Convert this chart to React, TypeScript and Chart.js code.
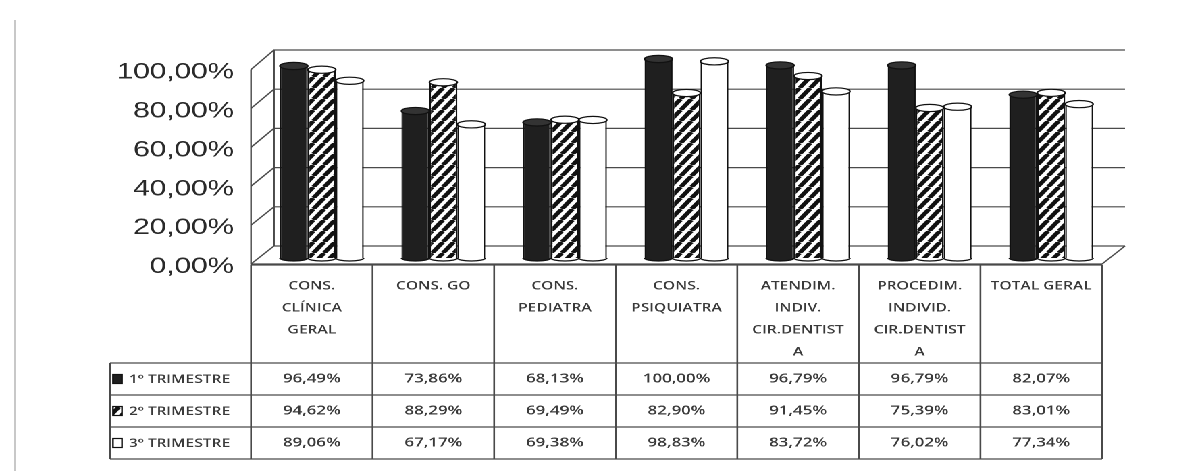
import React, { useEffect, useRef } from "react";
import { Chart, registerables } from "chart.js";

Chart.register(...registerables);

// ---------- data ----------
const CATEGORIES: string[][] = [
  ["CONS.", "CLÍNICA", "GERAL"],
  ["CONS. GO"],
  ["CONS.", "PEDIATRA"],
  ["CONS.", "PSIQUIATRA"],
  ["ATENDIM.", "INDIV.", "CIR.DENTIST", "A"],
  ["PROCEDIM.", "INDIVID.", "CIR.DENTIST", "A"],
  ["TOTAL GERAL"],
];
const SERIES_NAMES = ["1º TRIMESTRE", "2º TRIMESTRE", "3º TRIMESTRE"];
const TRIM1 = [96.49, 73.86, 68.13, 100.0, 96.79, 96.79, 82.07];
const TRIM2 = [94.62, 88.29, 69.49, 82.9, 91.45, 75.39, 83.01];
const TRIM3 = [89.06, 67.17, 69.38, 98.83, 83.72, 76.02, 77.34];
const Y_TICKS = [0, 20, 40, 60, 80, 100];

// ---------- layout / style ----------
const INNER_W = 890;
const H = 471;
const SX = 1202 / INNER_W;
const TABLE_SHIFT = 10 / SX;
const DEPTH_X = 23 / SX;
const LEGEND_LEFT = 110 / SX;
const HEADER_TOP = 265;
const HEADER_H = 98;
const ROW_H = 32;
const LINE_COLOR = "#4a4a4a";
const TEXT_COLOR = "#3a3a3a";
const FONT = "'Liberation Sans', Arial, sans-serif";
const TABLE_FONT = "'Open Sans', 'Liberation Sans', sans-serif";

const fmt = (v: number) => v.toFixed(2).replace(".", ",") + "%";

function makeHatch(): CanvasPattern | string {
  const c = document.createElement("canvas");
  const w = 8, h = 11, k = 2;
  c.width = w * k;
  c.height = h * k;
  const g = c.getContext("2d");
  if (!g) return "#fff";
  g.scale(k, k);
  g.fillStyle = "#fff";
  g.fillRect(0, 0, w, h);
  g.strokeStyle = "#111";
  g.lineWidth = 3.6;
  for (const off of [-w, 0, w]) {
    g.beginPath();
    g.moveTo(off, h);
    g.lineTo(off + w, 0);
    g.stroke();
  }
  const p = g.createPattern(c, "repeat");
  if (!p) return "#fff";
  p.setTransform(new DOMMatrix().scale(1 / k, 1 / k));
  return p;
}

export default function App() {
  const ref = useRef<HTMLCanvasElement | null>(null);

  useEffect(() => {
    document.body.style.margin = "0";
    const canvas = ref.current;
    if (!canvas) return;
    const hatch = makeHatch();
    const fills: (string | CanvasPattern)[] = ["#1f1f1f", hatch, "#ffffff"];
    const capFills = ["#333333", "#ffffff", "#ffffff"];

    const framePlugin = {
      id: "frame3d",
      beforeDatasetsDraw(chart: any) {
        const ctx = chart.ctx as CanvasRenderingContext2D;
        const ca = chart.chartArea;
        const yW = chart.scales.yWall;
        const yL = chart.scales.yLab;
        const fl = ca.left - TABLE_SHIFT;
        const fr = ca.right - TABLE_SHIFT;
        const bl = fl + DEPTH_X;
        const br = fr + DEPTH_X;
        const fy = (v: number) => yL.getPixelForValue(v) - 3;
        ctx.save();
        ctx.strokeStyle = LINE_COLOR;
        ctx.lineWidth = 1.2;
        for (const v of Y_TICKS) {
          const by = yW.getPixelForValue(v);
          ctx.beginPath();
          ctx.moveTo(fl, fy(v));
          ctx.lineTo(bl, by);
          ctx.lineTo(br, by);
          ctx.stroke();
        }
        ctx.beginPath();
        ctx.moveTo(fl, fy(100));
        ctx.lineTo(fl, fy(0));
        ctx.lineTo(fr, fy(0));
        ctx.lineTo(br, yW.getPixelForValue(0));
        ctx.stroke();
        ctx.beginPath();
        ctx.moveTo(bl, yW.getPixelForValue(100));
        ctx.lineTo(bl, yW.getPixelForValue(0));
        ctx.stroke();
        // faint scan border at left
        ctx.strokeStyle = "#c8c8c8";
        ctx.lineWidth = 1.5;
        ctx.beginPath();
        ctx.moveTo(15 / SX, 20);
        ctx.lineTo(15 / SX, H);
        ctx.stroke();
        ctx.restore();
      },
      afterDatasetsDraw(chart: any) {
        const ctx = chart.ctx as CanvasRenderingContext2D;
        ctx.save();
        chart.data.datasets.forEach((_: any, di: number) => {
          const meta = chart.getDatasetMeta(di);
          meta.data.forEach((el: any) => {
            const rx = el.width / 2;
            ctx.beginPath();
            ctx.ellipse(el.x, el.y, rx, 3.6, 0, 0, Math.PI * 2);
            ctx.fillStyle = capFills[di];
            ctx.fill();
            ctx.strokeStyle = "#111";
            ctx.lineWidth = 1.2;
            ctx.stroke();
            ctx.beginPath();
            ctx.ellipse(el.x, el.base, rx, 3, 0, 0, Math.PI);
            ctx.fillStyle = di === 0 ? "#1f1f1f" : "#ffffff";
            ctx.fill();
            ctx.stroke();
          });
        });
        ctx.restore();
      },
      afterDraw(chart: any) {
        const ctx = chart.ctx as CanvasRenderingContext2D;
        const ca = chart.chartArea;
        const xs = chart.scales.x;
        const n = CATEGORIES.length;
        const catW = (ca.right - ca.left) / n;
        const fr = ca.right - TABLE_SHIFT;
        const fl = ca.left - TABLE_SHIFT;
        const rowsTop = HEADER_TOP + HEADER_H;
        const bottom = rowsTop + ROW_H * 3;
        ctx.save();
        ctx.strokeStyle = LINE_COLOR;
        ctx.lineWidth = 1.3;
        ctx.beginPath();
        ctx.moveTo(fl, HEADER_TOP);
        ctx.lineTo(fr, HEADER_TOP);
        for (let r = 0; r <= 3; r++) {
          const y = rowsTop + r * ROW_H;
          ctx.moveTo(LEGEND_LEFT, y);
          ctx.lineTo(fr, y);
        }
        ctx.moveTo(LEGEND_LEFT, rowsTop);
        ctx.lineTo(LEGEND_LEFT, bottom);
        for (let i = 0; i <= n; i++) {
          const cx = xs.getPixelForValue(Math.min(i, n - 1)) - TABLE_SHIFT + (i === n ? catW / 2 : -catW / 2);
          ctx.moveTo(cx, HEADER_TOP);
          ctx.lineTo(cx, bottom);
        }
        ctx.stroke();

        ctx.fillStyle = TEXT_COLOR;
        ctx.textAlign = "center";
        ctx.textBaseline = "middle";
        ctx.font = `600 11.5px ${TABLE_FONT}`;
        CATEGORIES.forEach((lines, i) => {
          const cx = xs.getPixelForValue(i) - TABLE_SHIFT;
          lines.forEach((ln, li) => ctx.fillText(ln, cx, HEADER_TOP + 21 + li * 22));
        });
        const series = [TRIM1, TRIM2, TRIM3];
        ctx.font = `600 12.5px ${TABLE_FONT}`;
        series.forEach((vals, r) => {
          const cy = rowsTop + r * ROW_H + ROW_H / 2;
          vals.forEach((v, i) => {
            ctx.fillText(fmt(v), xs.getPixelForValue(i) - TABLE_SHIFT, cy);
          });
        });
        ctx.textAlign = "left";
        ctx.font = `600 11.5px ${TABLE_FONT}`;
        SERIES_NAMES.forEach((name, r) => {
          const cy = rowsTop + r * ROW_H + ROW_H / 2;
          const sz = 9;
          const ix = 113 / SX;
          ctx.fillStyle = fills[r] as any;
          ctx.fillRect(ix, cy - sz / 2, sz / SX, sz);
          ctx.strokeStyle = "#111";
          ctx.lineWidth = 1.2;
          ctx.strokeRect(ix, cy - sz / 2, sz / SX, sz);
          ctx.fillStyle = TEXT_COLOR;
          ctx.fillText(name, 129 / SX, cy + 0.5);
        });
        ctx.restore();
      },
    };

    const chart = new Chart(canvas, {
      type: "bar",
      data: {
        labels: CATEGORIES,
        datasets: [TRIM1, TRIM2, TRIM3].map((d, i) => ({
          label: SERIES_NAMES[i],
          data: d,
          backgroundColor: fills[i] as any,
          borderColor: "#111",
          borderWidth: 1.2,
          yAxisID: "y",
          categoryPercentage: 0.69,
          barPercentage: 1.0,
        })),
      },
      options: {
        animation: false,
        responsive: true,
        maintainAspectRatio: false,
        devicePixelRatio: 2,
        layout: { padding: { left: 0, right: 90 / SX, top: 48, bottom: H - 267 } },
        plugins: { legend: { display: false }, tooltip: { enabled: false } },
        scales: {
          x: { display: false },
          y: { display: false, min: -4.52, max: 105.53 },
          yWall: { display: false, min: -10.71, max: 101.02 },
          yLab: {
            position: "left",
            min: 0,
            max: 112.6,
            grid: { display: false },
            border: { display: false },
            afterBuildTicks: (s: any) => {
              s.ticks = Y_TICKS.map((v) => ({ value: v }));
            },
            afterFit: (s: any) => {
              s.width = 261 / SX;
            },
            ticks: {
              padding: 12,
              color: "#2a2a2a",
              font: { family: FONT, size: 22 },
              callback: (v: any) => fmt(Number(v)),
            },
          },
        },
      },
      plugins: [framePlugin],
    });
    return () => chart.destroy();
  }, []);

  return (
    <div
      style={{
        width: INNER_W,
        height: H,
        transform: `scaleX(${SX})`,
        transformOrigin: "0 0",
        background: "#fff",
      }}
    >
      <canvas ref={ref} />
    </div>
  );
}
